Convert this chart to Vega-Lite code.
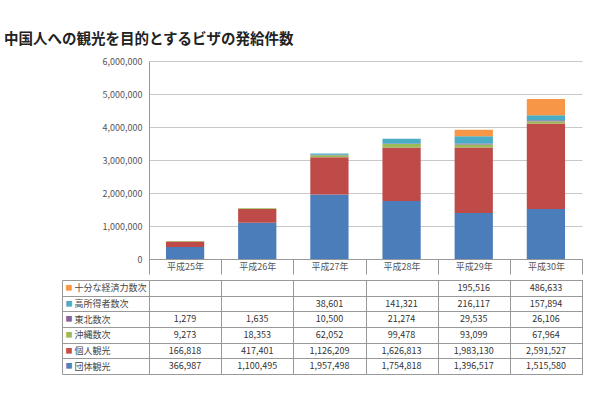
{
  "$schema": "https://vega.github.io/schema/vega-lite/v6.json",
  "padding": {"left": 4, "top": 31, "right": 5, "bottom": 5},
  "title": {"text": "中国人への観光を目的とするビザの発給件数", "anchor": "start", "fontSize": 14.5, "fontWeight": "bold", "font": "Noto Sans CJK JP", "color": "#222", "dx": -57, "offset": 10},
  "config": {"font": "Noto Sans CJK JP", "view": {"stroke": null}},
  "data": {"values": [
    {"year": "平成25年", "type": "団体観光", "series_no": 1, "count": 366987},
    {"year": "平成25年", "type": "個人観光", "series_no": 2, "count": 166818},
    {"year": "平成25年", "type": "沖縄数次", "series_no": 3, "count": 9273},
    {"year": "平成25年", "type": "東北数次", "series_no": 4, "count": 1279},
    {"year": "平成26年", "type": "団体観光", "series_no": 1, "count": 1100495},
    {"year": "平成26年", "type": "個人観光", "series_no": 2, "count": 417401},
    {"year": "平成26年", "type": "沖縄数次", "series_no": 3, "count": 18353},
    {"year": "平成26年", "type": "東北数次", "series_no": 4, "count": 1635},
    {"year": "平成27年", "type": "団体観光", "series_no": 1, "count": 1957498},
    {"year": "平成27年", "type": "個人観光", "series_no": 2, "count": 1126209},
    {"year": "平成27年", "type": "沖縄数次", "series_no": 3, "count": 62052},
    {"year": "平成27年", "type": "東北数次", "series_no": 4, "count": 10500},
    {"year": "平成27年", "type": "高所得者数次", "series_no": 5, "count": 38601},
    {"year": "平成28年", "type": "団体観光", "series_no": 1, "count": 1754818},
    {"year": "平成28年", "type": "個人観光", "series_no": 2, "count": 1626813},
    {"year": "平成28年", "type": "沖縄数次", "series_no": 3, "count": 99478},
    {"year": "平成28年", "type": "東北数次", "series_no": 4, "count": 21274},
    {"year": "平成28年", "type": "高所得者数次", "series_no": 5, "count": 141321},
    {"year": "平成29年", "type": "団体観光", "series_no": 1, "count": 1396517},
    {"year": "平成29年", "type": "個人観光", "series_no": 2, "count": 1983130},
    {"year": "平成29年", "type": "沖縄数次", "series_no": 3, "count": 93099},
    {"year": "平成29年", "type": "東北数次", "series_no": 4, "count": 29535},
    {"year": "平成29年", "type": "高所得者数次", "series_no": 5, "count": 216117},
    {"year": "平成29年", "type": "十分な経済力数次", "series_no": 6, "count": 195516},
    {"year": "平成30年", "type": "団体観光", "series_no": 1, "count": 1515580},
    {"year": "平成30年", "type": "個人観光", "series_no": 2, "count": 2591527},
    {"year": "平成30年", "type": "沖縄数次", "series_no": 3, "count": 67964},
    {"year": "平成30年", "type": "東北数次", "series_no": 4, "count": 26106},
    {"year": "平成30年", "type": "高所得者数次", "series_no": 5, "count": 157894},
    {"year": "平成30年", "type": "十分な経済力数次", "series_no": 6, "count": 486633}
  ]},
  "spacing": 0,
  "vconcat": [
    {
      "width": 433,
      "height": 198,
      "mark": {"type": "bar", "width": {"band": 0.53}},
      "encoding": {
        "x": {"field": "year", "type": "ordinal", "sort": ["平成25年", "平成26年", "平成27年", "平成28年", "平成29年", "平成30年"], "scale": {"paddingInner": 0, "paddingOuter": 0},
          "axis": {"title": null, "labelAngle": 0, "labelFontSize": 9, "labelColor": "#555", "domainColor": "#999", "tickColor": "#999", "tickBand": "extent", "tickSize": 15, "labelPadding": -12, "labelBaseline": "top"}},
        "y": {"field": "count", "type": "quantitative", "stack": "zero", "scale": {"domain": [0, 6000000]},
          "axis": {"title": null, "values": [0, 1000000, 2000000, 3000000, 4000000, 5000000, 6000000], "format": ",d", "labelFontSize": 9, "labelColor": "#555", "ticks": false, "domainColor": "#999", "gridColor": "#c8c8c8", "labelPadding": 7, "minExtent": 87, "maxExtent": 87}},
        "color": {"field": "type", "type": "nominal",
          "scale": {"domain": ["団体観光", "個人観光", "沖縄数次", "東北数次", "高所得者数次", "十分な経済力数次"], "range": ["#4A7DBA", "#BE4B48", "#9BBB59", "#8064A2", "#4BACC6", "#F79646"]}, "legend": null},
        "order": {"field": "series_no", "type": "quantitative", "sort": "ascending"}
      }
    },
    {
      "width": 433,
      "height": 94,
      "view": {"stroke": "#999"},
      "layer": [
        {
          "mark": {"type": "text", "fontSize": 9, "color": "#333"},
          "encoding": {
            "x": {"field": "year", "type": "ordinal", "sort": ["平成25年", "平成26年", "平成27年", "平成28年", "平成29年", "平成30年"], "scale": {"paddingInner": 0, "paddingOuter": 0},
              "axis": {"title": null, "labels": false, "ticks": false, "domain": false, "grid": true, "gridColor": "#999", "tickBand": "extent", "orient": "top"}},
            "y": {"field": "type", "type": "nominal", "sort": ["十分な経済力数次", "高所得者数次", "東北数次", "沖縄数次", "個人観光", "団体観光"], "scale": {"paddingInner": 0, "paddingOuter": 0},
              "axis": {"title": null, "orient": "left", "offset": 87, "domain": true, "domainColor": "#999", "ticks": true, "tickSize": -87, "tickColor": "#999", "tickBand": "extent", "grid": true, "gridColor": "#999", "labelAlign": "left", "labelPadding": 75, "labelFontSize": 9, "labelColor": "#444"}},
            "text": {"field": "count", "type": "quantitative", "format": ","}
          }
        },
        {
          "mark": {"type": "text", "text": ""},
          "encoding": {
            "y": {"field": "type", "type": "nominal", "sort": ["十分な経済力数次", "高所得者数次", "東北数次", "沖縄数次", "個人観光", "団体観光"],
              "axis": {"title": null, "orient": "left", "offset": 87, "domain": false, "ticks": false, "grid": false, "labelAlign": "left", "labelPadding": -3, "labelFontSize": 7, "labelExpr": "'■'",
                "labelColor": {"expr": "datum.value == '十分な経済力数次' ? '#F79646' : datum.value == '高所得者数次' ? '#4BACC6' : datum.value == '東北数次' ? '#8064A2' : datum.value == '沖縄数次' ? '#9BBB59' : datum.value == '個人観光' ? '#C0504D' : '#4F81BD'"}}}
          }
        }
      ],
      "resolve": {"axis": {"y": "independent"}}
    }
  ]
}
